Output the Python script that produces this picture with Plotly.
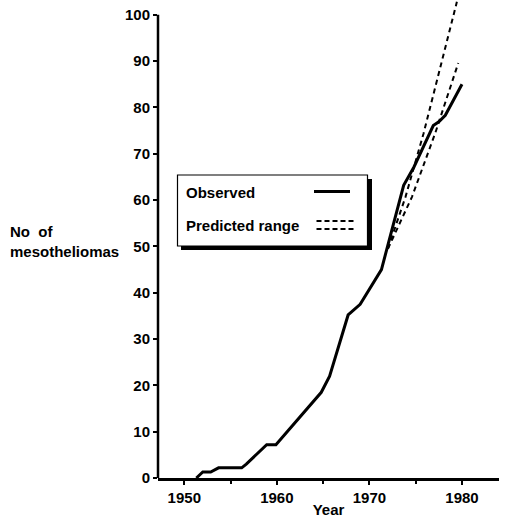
import plotly.graph_objects as go

# ---- data ----
obs_years = [1951.3, 1952.0, 1952.85, 1953.7, 1956.2, 1956.7, 1958.9, 1959.9,
             1964.8, 1965.7, 1967.7, 1969.0, 1971.3, 1973.7, 1974.8, 1976.9,
             1977.5, 1978.2, 1980.0]
obs_values = [0, 1.3, 1.3, 2.2, 2.2, 3, 7.2, 7.2, 18.5, 22, 35.2, 37.5, 45,
              63.2, 67.1, 76.1, 76.9, 78.3, 85.0]

pred_upper_years = [1972.0, 1973.9, 1975.85, 1977.6, 1979.45]
pred_upper_values = [49.5, 60.7, 74.4, 88.2, 102.8]
pred_lower_years = [1972.0, 1974.6, 1977.1, 1979.6]
pred_lower_values = [49.5, 60.7, 74.4, 89.6]

x_ticks = [1950, 1960, 1970, 1980]
y_ticks = list(range(0, 101, 10))

# ---- layout geometry (pixels) ----
W, H = 505, 519
ML, MR, MT, MB = 158, 6, 0, 41
PW, PH = W - ML - MR, H - MT - MB

def px(x):
    return (x - ML) / PW

def py(y):
    return (H - MB - y) / PH

FONT = "Liberation Sans"
FS = 15

fig = go.Figure()
fig.add_trace(go.Scatter(x=obs_years, y=obs_values, mode="lines",
                         line=dict(color="black", width=3), showlegend=False))
for xs, ys in [(pred_upper_years, pred_upper_values), (pred_lower_years, pred_lower_values)]:
    fig.add_trace(go.Scatter(x=xs, y=ys, mode="lines",
                             line=dict(color="black", width=2, dash="5px,4px"),
                             showlegend=False))

shapes = []
# y axis line from 0 to 100 only
shapes.append(dict(type="line", xref="paper", yref="y", x0=0, x1=0, y0=0, y1=100,
                   line=dict(color="black", width=2.5)))
# legend box with shadow
shapes.append(dict(type="rect", xref="paper", yref="paper",
                   x0=px(181), x1=px(372), y0=py(250), y1=py(179),
                   fillcolor="black", line=dict(width=0)))
shapes.append(dict(type="rect", xref="paper", yref="paper",
                   x0=px(177.5), x1=px(367.5), y0=py(246), y1=py(175),
                   fillcolor="white", line=dict(color="black", width=1.2)))
shapes.append(dict(type="line", xref="paper", yref="paper",
                   x0=px(314), x1=px(350), y0=py(191.5), y1=py(191.5),
                   line=dict(color="black", width=3)))
for yy in (221, 229):
    shapes.append(dict(type="line", xref="paper", yref="paper",
                       x0=px(316.5), x1=px(354), y0=py(yy), y1=py(yy),
                       line=dict(color="black", width=2, dash="5px,3px")))

tfont = dict(family=FONT, size=FS, color="black", weight="bold")
annotations = [
    dict(text="Observed", xref="paper", yref="paper", x=px(184), y=py(192.5),
         xanchor="left", yanchor="middle", showarrow=False, font=tfont),
    dict(text="Predicted range", xref="paper", yref="paper", x=px(184), y=py(225.5),
         xanchor="left", yanchor="middle", showarrow=False, font=tfont),
    dict(text="No  of<br>mesotheliomas", xref="paper", yref="paper", x=px(8), y=py(241.5),
         xanchor="left", yanchor="middle", showarrow=False, align="left", font=tfont),
]

fig.update_layout(
    width=W, height=H,
    margin=dict(l=ML, r=MR, t=MT, b=MB, pad=0),
    paper_bgcolor="white", plot_bgcolor="white",
    font=tfont,
    xaxis=dict(range=[1947.16, 1984.0], tickvals=x_ticks, ticks="outside", ticklen=4,
               tickwidth=2, tickcolor="black", showline=True, linecolor="black",
               linewidth=2.5, showgrid=False, zeroline=False,
               minor=dict(tickvals=[1955, 1965, 1975], ticks="outside", ticklen=3,
                          tickwidth=2, tickcolor="black"),
               title=dict(text="Year", standoff=0, font=tfont),
               tickfont=tfont),
    yaxis=dict(range=[0, 103.2], tickvals=y_ticks, ticks="outside", ticklen=4,
               tickwidth=2, tickcolor="black", showline=False, showgrid=False,
               zeroline=False, tickfont=tfont),
    shapes=shapes, annotations=annotations,
)

fig.write_html("out.html", config={"displayModeBar": False},
               post_script="document.body.style.margin='0px';document.body.style.overflow='hidden';")
